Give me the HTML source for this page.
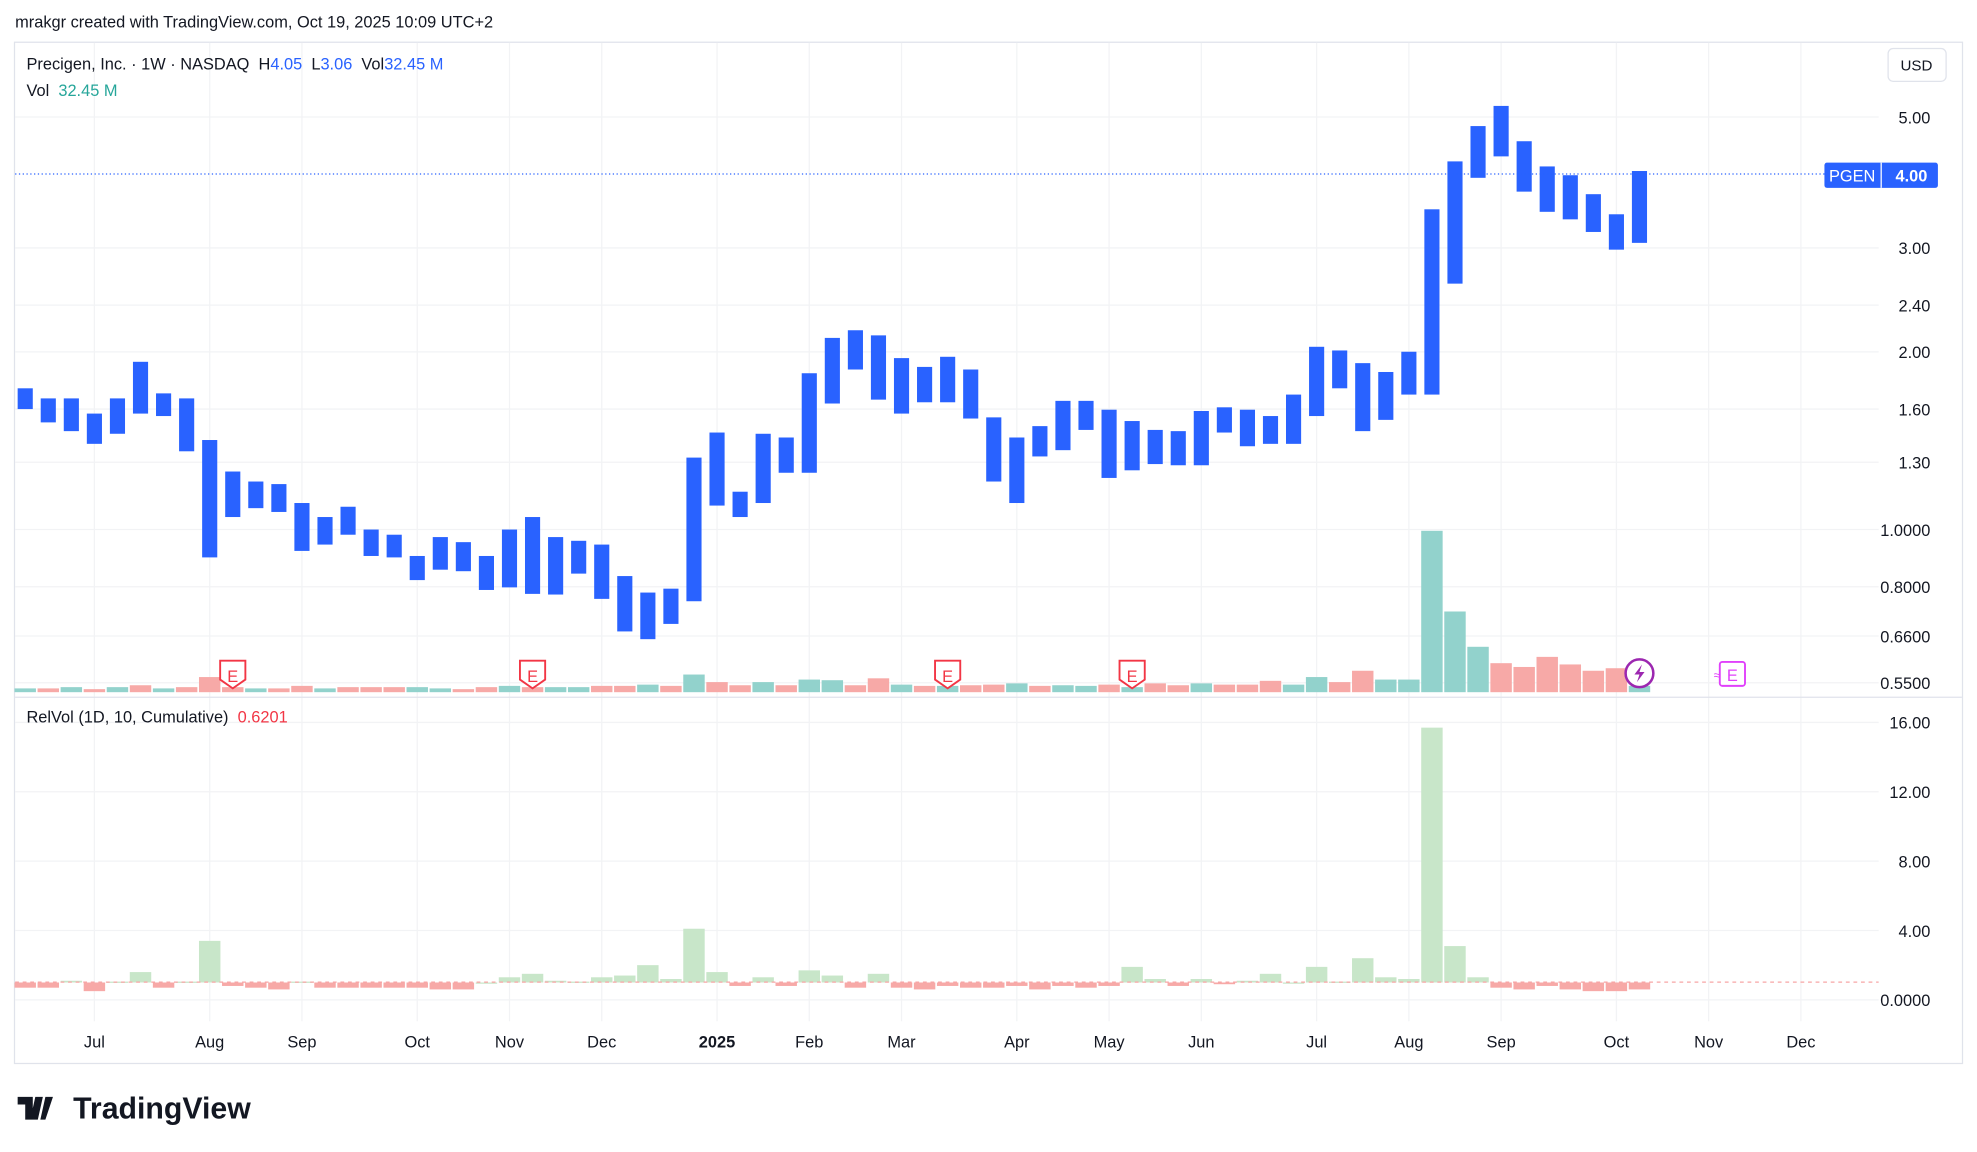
<!DOCTYPE html>
<html><head><meta charset="utf-8"><style>
html,body{margin:0;padding:0;background:#fff;}
svg{display:block;font-family:"Liberation Sans",sans-serif;}
svg text{white-space:pre;}
</style></head><body>
<svg id="chart" width="1977" height="1152" viewBox="0 0 1568 913.7" preserveAspectRatio="none" xmlns="http://www.w3.org/2000/svg" xml:space="preserve">
<rect x="0" y="0" width="1568" height="914" fill="#fff"/>
<text x="12" y="22" font-size="13" fill="#131722">mrakgr created with TradingView.com, Oct 19, 2025 10:09 UTC+2</text>
<rect x="11.5" y="33.5" width="1545" height="810" fill="none" stroke="#e0e3eb"/>
<g id="grid"></g>
<g id="vol"></g>
<g id="bars"></g>
<g id="relvol"></g>
<line x1="12" y1="553" x2="1556" y2="553" stroke="#e0e3eb"/>
<line x1="12" y1="138" x2="1447" y2="138" stroke="#2962ff" stroke-dasharray="1 2"/>
<line x1="12" y1="779" x2="1490" y2="779" stroke="#f7a5a5" stroke-dasharray="3 3"/>
<g id="yaxis" font-size="13" fill="#131722" text-anchor="end"></g>
<g id="xaxis" font-size="13" fill="#131722" text-anchor="middle"></g>
<g font-size="13">
<text x="21" y="55"><tspan fill="#131722">Precigen, Inc. · 1W · NASDAQ  H</tspan><tspan fill="#2962ff">4.05</tspan><tspan fill="#131722">  L</tspan><tspan fill="#2962ff">3.06</tspan><tspan fill="#131722">  Vol</tspan><tspan fill="#2962ff">32.45 M</tspan></text>
<text x="21" y="76"><tspan fill="#131722">Vol  </tspan><tspan fill="#26a69a">32.45 M</tspan></text>
<text x="21" y="573"><tspan fill="#131722">RelVol (1D, 10, Cumulative)  </tspan><tspan fill="#f23645">0.6201</tspan></text>
</g>
<g>
<rect x="1497.5" y="38.5" width="46" height="26" rx="4" fill="#fff" stroke="#e0e3eb"/>
<text x="1520" y="56" font-size="12" text-anchor="middle" fill="#131722">USD</text>
</g>
<g>
<rect x="1447" y="129" width="90" height="20" rx="2" fill="#2962ff"/>
<line x1="1492" y1="129" x2="1492" y2="149" stroke="#fff"/>
<text x="1469" y="144" font-size="13" fill="#fff" text-anchor="middle">PGEN</text>
<text x="1516" y="144" font-size="13" font-weight="bold" fill="#fff" text-anchor="middle">4.00</text>
</g>
<g id="events"></g>
<g>
<path d="M14 870h12v18h-6v-12h-6z M28 870h6l-4 18h-6z M36 870h6l-6 18h-4z" fill="#131722"/>
<text x="58" y="887" font-size="24" font-weight="bold" fill="#131722">TradingView</text>
</g>
</svg>
<script>
const highs=[1.735,1.668,1.668,1.572,1.668,1.924,1.701,1.668,1.418,1.254,1.206,1.194,1.109,1.050,1.093,1.000,0.980,0.902,0.971,0.952,0.902,1.000,1.050,0.971,0.957,0.943,0.834,0.782,0.794,1.324,1.460,1.159,1.453,1.432,1.840,2.112,2.176,2.133,1.952,1.886,1.962,1.867,1.549,1.432,1.497,1.652,1.652,1.596,1.527,1.475,1.468,1.588,1.611,1.596,1.557,1.693,2.040,2.011,1.914,1.849,2.001,3.488,4.205,4.826,5.221,4.549,4.123,3.984,3.700,3.421,4.05];
const lows=[1.60,1.519,1.468,1.397,1.453,1.572,1.557,1.357,0.897,1.050,1.087,1.071,0.920,0.943,0.980,0.902,0.897,0.821,0.855,0.850,0.790,0.798,0.778,0.776,0.842,0.763,0.672,0.652,0.692,0.756,1.098,1.050,1.109,1.248,1.248,1.635,1.867,1.660,1.572,1.643,1.643,1.542,1.206,1.109,1.330,1.363,1.475,1.223,1.260,1.291,1.285,1.285,1.460,1.384,1.397,1.397,1.557,1.735,1.468,1.534,1.693,1.693,2.610,3.944,4.288,3.737,3.454,3.354,3.193,2.980,3.06];
const volumes=[3,3,4,2.4,4,5.5,3,4,12,4,3,3,5,3,4,4,4,4,3,2.4,4,5,4,4,4,5,5,6,5,14,8,5.5,8,5.5,10,9.5,5.5,11,6,5,5,5.5,6,7,5,5.5,5,6,4,7,5.5,7,6,6,9,6,12,8,17,10,10,128,64,36,23,20,28,22,17,19,5];
const volUp=[1,0,1,0,1,0,1,0,0,0,1,0,0,1,0,0,0,1,1,0,0,1,0,1,1,0,0,1,0,1,0,0,1,0,1,1,0,0,1,0,1,0,0,1,0,1,1,0,1,0,0,1,0,0,0,1,1,0,0,1,1,1,1,1,0,0,0,0,0,0,1];
const relVol=[0.7,0.7,1.1,0.5,1.05,1.6,0.7,1.05,3.4,0.8,0.7,0.6,1.05,0.7,0.7,0.7,0.7,0.7,0.6,0.6,1.0,1.3,1.5,1.1,1.05,1.3,1.4,2.0,1.2,4.1,1.6,0.8,1.3,0.8,1.7,1.4,0.7,1.5,0.7,0.6,0.8,0.7,0.7,0.8,0.6,0.8,0.7,0.8,1.9,1.2,0.8,1.2,0.9,1.1,1.5,1.0,1.9,1.05,2.4,1.3,1.2,15.7,3.1,1.3,0.7,0.6,0.8,0.6,0.5,0.5,0.6];
const priceTicks=[5.00,3.00,2.40,2.00,1.60,1.30,1.0000,0.8000,0.6600,0.5500];
const priceTickLabels=["5.00","3.00","2.40","2.00","1.60","1.30","1.0000","0.8000","0.6600","0.5500"];
const relTicks=[16,12,8,4,0];
const relTickLabels=["16.00","12.00","8.00","4.00","0.0000"];
const monthIdx=[3,8,12,17,21,25,30,34,38,43,47,51,56,60,64,69,73,77];
const monthLabels=["Jul","Aug","Sep","Oct","Nov","Dec","2025","Feb","Mar","Apr","May","Jun","Jul","Aug","Sep","Oct","Nov","Dec"];
const earningsIdx=[9,22,40,48];

const NS="http://www.w3.org/2000/svg";
const xOf=i=>20+18.29*i;
const yP=p=>420-203.3*Math.log(p);
const maxV=Math.max(...volumes);
const yV=v=>549-v/maxV*128;
const yR=r=>793-r*13.75;
function mk(tag,attrs,parent){const e=document.createElementNS(NS,tag);for(const k in attrs)e.setAttribute(k,attrs[k]);parent.appendChild(e);return e;}
const grid=document.getElementById('grid'),bars=document.getElementById('bars'),vol=document.getElementById('vol'),rel=document.getElementById('relvol'),ya=document.getElementById('yaxis'),xa=document.getElementById('xaxis'),ev=document.getElementById('events');
priceTicks.forEach((p,k)=>{
  const g=mk('line',{x1:12,x2:1490,y1:yP(p),y2:yP(p),stroke:'#f2f3f5'},grid);
  
  
  const t=mk('text',{x:1531,y:yP(p)+5},ya);t.textContent=priceTickLabels[k];
  
  
});
relTicks.forEach((r,k)=>{
  const g=mk('line',{x1:12,x2:1490,y1:yR(r),y2:yR(r),stroke:'#f2f3f5'},grid);
  
  
  const t=mk('text',{x:1531,y:yR(r)+5},ya);t.textContent=relTickLabels[k];
  
  
});
monthIdx.forEach((i,k)=>{
  const g=mk('line',{x1:xOf(i),x2:xOf(i),y1:34,y2:810,stroke:'#f2f3f5'},grid);
  
  
  const t=mk('text',{x:xOf(i),y:831},xa);t.textContent=monthLabels[k];
  if(monthLabels[k]==='2025')t.setAttribute('font-weight','bold');
  
  
});
highs.forEach((h,i)=>{
  const y1=yP(h),y2=yP(lows[i]);
  const b=mk('rect',{x:xOf(i)-6,y:y1,width:12,height:Math.max(1,y2-y1),fill:'#2962ff'},bars);
  
  
});
volumes.forEach((v,i)=>{
  const y=yV(v);
  const b=mk('rect',{x:xOf(i)-8.5,y:y,width:17,height:549-y,fill:volUp[i]?'#92d2cc':'#f7a9a7'},vol);
  
  
});
relVol.forEach((r,i)=>{
  const y0=yR(1),y1=yR(r);
  const b=mk('rect',{x:xOf(i)-8.5,y:Math.min(y0,y1),width:17,height:Math.max(1,Math.abs(y1-y0)),fill:r>=1?'#c8e6c9':'#f7a9a7'},rel);
  
  
});
earningsIdx.forEach(i=>{
  const x=xOf(i);
  const g=mk('g',{},ev);
  
  
  mk('path',{d:`M${x-10} 524h20v15l-10 7l-10-7z`,fill:'#fff',stroke:'#f23645','stroke-width':1.5},g);
  const t=mk('text',{x:x,y:541,'font-size':13,'text-anchor':'middle',fill:'#f23645'},g);t.textContent='E';
});
(function(){
  const x=xOf(70);
  const g=mk('g',{},ev);
  
  
  mk('circle',{cx:x,cy:534,r:11,fill:'#fff',stroke:'#9c27b0','stroke-width':2},g);
  mk('path',{d:`M${x+2} 527l-6 8h4l-2 6l6-8h-4z`,fill:'#9c27b0'},g);
  const g2=mk('g',{},ev);
  
  
  mk('rect',{x:1364,y:525,width:20,height:19,rx:2,fill:'#fff',stroke:'#e040fb','stroke-width':1.5},g2);
  const t=mk('text',{x:1374,y:540,'font-size':13,'text-anchor':'middle',fill:'#e040fb'},g2);t.textContent='E';
  const t2=mk('text',{x:1362,y:539,'font-size':10,'text-anchor':'middle',fill:'#e040fb'},g2);t2.textContent='≈';
})();
</script>
</body></html>
